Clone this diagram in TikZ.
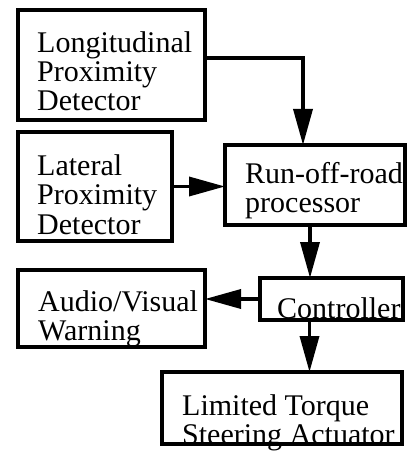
\documentclass[tikz,border=0pt]{standalone}
\usepackage{fontspec}
\setmainfont{Liberation Serif}
\usetikzlibrary{arrows.meta}

\begin{document}
\begin{tikzpicture}[x=1bp,y=-1bp,
		blk/.style={draw, line width=3.5bp, inner sep=0pt, outer sep=0pt},
		lbl/.style={anchor=base west, inner sep=0pt, align=left, font=\fontsize{30bp}{29bp}\selectfont},
		con/.style={line width=3.5bp, -{Triangle[length=36bp,width=19bp]}}]

		\useasboundingbox (0,0) rectangle (417,454);

		% make the block outlines
		\node[blk, minimum width=187bp, minimum height=110bp] (lon) at (111.5,65) {};
		\node[blk, minimum width=154bp, minimum height=109bp] (lat) at (95,186.5) {};
		\node[blk, minimum width=180bp, minimum height=80bp] (run) at (315,185) {};
		\node[blk, minimum width=187bp, minimum height=77bp] (aud) at (111.5,308.5) {};
		\node[blk, minimum width=143bp, minimum height=42bp] (ctl) at (331.5,299) {};
		\node[blk, minimum width=240bp, minimum height=72bp] (lim) at (282,408) {};

		% make the block texts (base is the last line)
		\node[lbl] (lontxt) at (37,111) {Longitudinal\\Proximity\\Detector};
		\node[lbl] (lattxt) at (37,234) {Lateral\\Proximity\\Detector};
		\node[lbl] (runtxt) at (245,213) {Run-off-road\\processor};
		\node[lbl] (audtxt) at (38,340) {Audio/Visual\\Warning};
		\node[lbl] (ctltxt) at (277,318) {Controller};
		\node[lbl] (limtxt) at (182,444) {Limited Torque\\Steering Actuator};

		% make the connector end points
		\coordinate (lonout) at ([yshift=7bp]lon.east);
		\coordinate (runin) at ([xshift=-12bp]run.north);
		\coordinate (runout) at ([xshift=-5bp]run.south);
		\coordinate (ctlout) at ([xshift=-22bp]ctl.south);

		% make the connector arrows
		\draw[con] (lonout) -| (runin);
		\draw[con] (lat.east) -- (run.west |- lat.east);
		\draw[con] (runout) -- (ctl.north -| runout);
		\draw[con] (ctl.west) -- (aud.east |- ctl.west);
		\draw[con] (ctlout) -- (lim.north -| ctlout);

\end{tikzpicture}
\end{document}
